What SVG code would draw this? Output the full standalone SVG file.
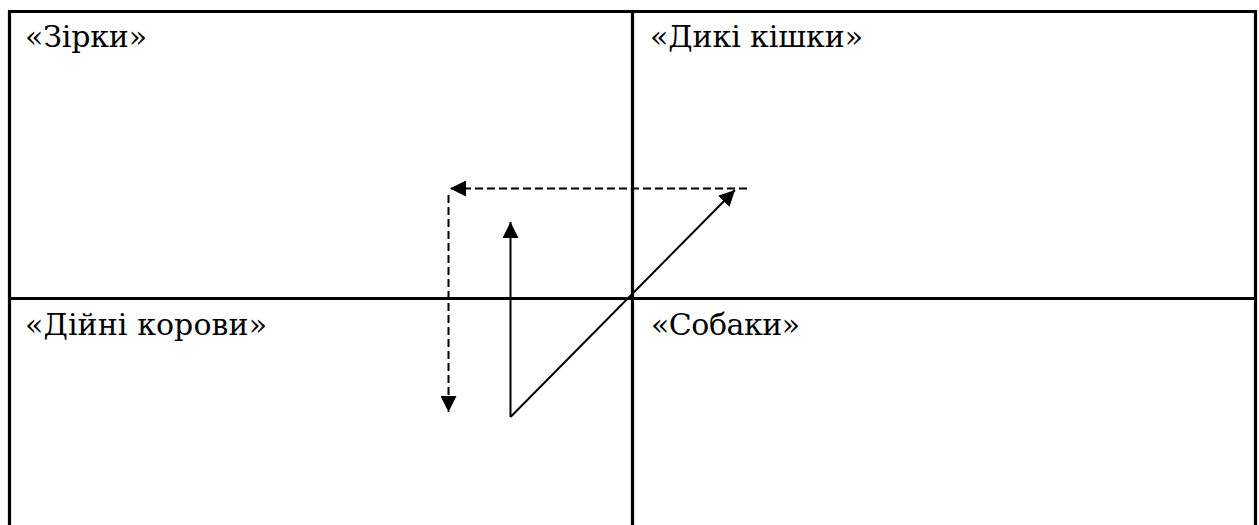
<svg xmlns="http://www.w3.org/2000/svg" width="1259" height="525" viewBox="0 0 1259 525">
<style>
.b{stroke:#000;stroke-width:3.2;fill:none}
.t{font-family:'DejaVu Serif',serif;font-size:30px;fill:#000}
.a{stroke:#000;stroke-width:2;fill:none}
.d{stroke-dasharray:8,4}
</style>
<defs>
<marker id="ah" viewBox="0 0 10 10" refX="10" refY="5" markerWidth="8" markerHeight="8" markerUnits="strokeWidth" orient="auto">
<path d="M0,0 L10,5 L0,10 Z" fill="#000"/>
</marker>
</defs>
<rect width="1259" height="525" fill="#fff"/>
<g id="grid">
<path class="b" d="M9.5,525 V11.5 H1255.5 V525"/>
<path class="b" d="M632.5,11.5 V525"/>
<path class="b" d="M9.5,298.5 H1255.5"/>
</g>
<g id="q1"><text class="t" x="25" y="47" textLength="122">«Зірки»</text></g>
<g id="q2"><text class="t" x="650" y="47" textLength="213">«Дикі кішки»</text></g>
<g id="q3"><text class="t" x="25" y="335" textLength="242">«Дійні корови»</text></g>
<g id="q4"><text class="t" x="651" y="335" textLength="149">«Собаки»</text></g>
<g id="connectors">
<line class="a d" x1="747" y1="188.5" x2="450" y2="188.5" marker-end="url(#ah)"/>
<line class="a d" x1="448.5" y1="195" x2="448.5" y2="412" marker-end="url(#ah)"/>
<line class="a" x1="510.5" y1="417" x2="510.5" y2="222" marker-end="url(#ah)"/>
<line class="a" x1="510.5" y1="417" x2="735" y2="190" marker-end="url(#ah)"/>
</g>
</svg>
